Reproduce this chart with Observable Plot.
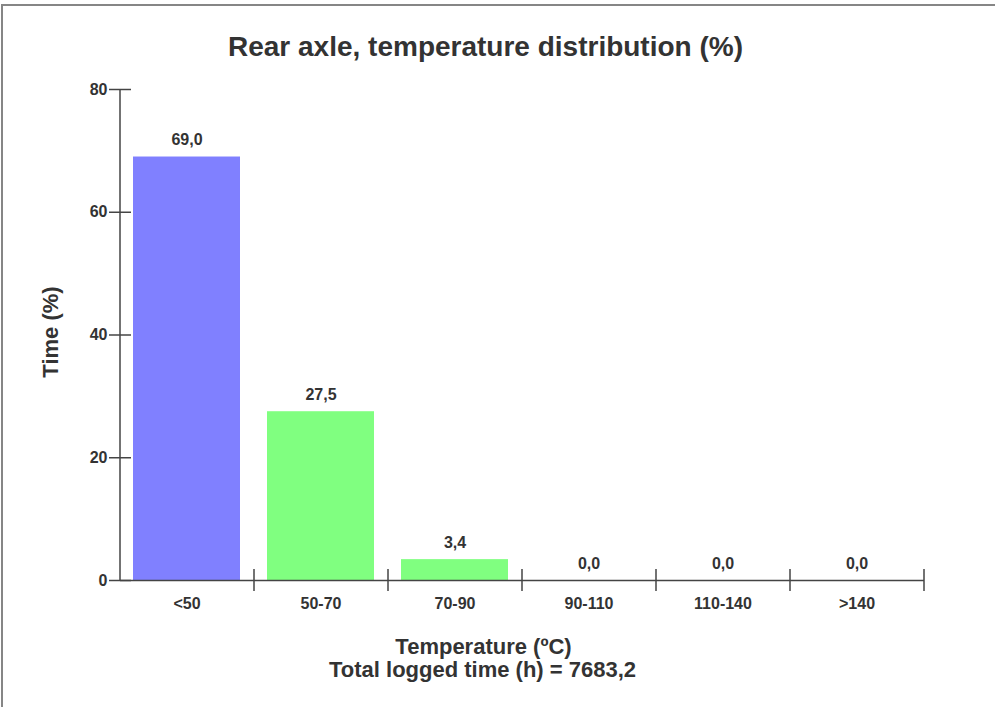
<!DOCTYPE html>
<html>
<head>
<meta charset="utf-8">
<script src="https://cdn.jsdelivr.net/npm/d3@7"></script>
<script src="https://cdn.jsdelivr.net/npm/@observablehq/plot@0.6"></script>
<style>
  html, body { margin: 0; padding: 0; background: #fff; }
  #wrap { position: relative; width: 995px; height: 707px; overflow: hidden; }
  #border { position: absolute; top: 4px; left: 1px; right: 0; bottom: 0;
            border-top: 2px solid #868686; border-left: 2px solid #868686; }
  #chart { position: absolute; top: 0; left: 0; }
</style>
</head>
<body>
<div id="wrap"><div id="border"></div><div id="chart"></div></div>
<script>
// ---- data ----
const categories = ["<50", "50-70", "70-90", "90-110", "110-140", ">140"];
const values = [69.0, 27.5, 3.4, 0.0, 0.0, 0.0];
const barColors = ["#8080ff", "#80ff80", "#80ff80", "#80ff80", "#80ff80", "#80ff80"];
const yTicks = [0, 20, 40, 60, 80];
const titleText = "Rear axle, temperature distribution (%)";
const yLabel = "Time (%)";
const xLabel = "Temperature (ºC)";
const totalLabel = "Total logged time (h) = 7683,2";

// ---- layout ----
const W = 995, H = 707, ML = 120, MR = 71, MT = 89, MB = 127;
const frameW = W - ML - MR;
const step = frameW / categories.length;
const ink = "#333";
const axisColor = "#444";

const data = categories.map((c, i) => ({
  cat: c, value: values[i], color: barColors[i],
  label: values[i].toFixed(1).replace(".", ",")
}));

const bold = {fontWeight: "bold", fill: ink, lineAnchor: "middle"};

const chart = Plot.plot({
  width: W, height: H,
  marginLeft: ML, marginRight: MR, marginTop: MT, marginBottom: MB,
  x: {domain: categories, paddingInner: 0.2, paddingOuter: 0.1, axis: null},
  y: {domain: [0, 80], axis: null},
  color: {type: "identity"},
  style: {fontFamily: "'Liberation Sans', Arial, Helvetica, sans-serif", background: "transparent", overflow: "visible"},
  marks: [
    Plot.barY(data, {x: "cat", y: "value", fill: "color"}),
    // axis lines
    Plot.ruleY([0], {stroke: axisColor, strokeWidth: 1.5}),
    Plot.ruleX([categories[0]], {y1: 0, y2: 80, dx: -step / 2, stroke: axisColor, strokeWidth: 1.5}),
    // x ticks at band boundaries
    Plot.ruleX(categories, {x: d => d, y1: 0, y2: 0, dx: step / 2, insetTop: -11, insetBottom: -11, stroke: axisColor, strokeWidth: 1.5}),
    // y ticks crossing the axis
    Plot.ruleY(yTicks, {y: d => d, insetLeft: -11, insetRight: frameW - 11, stroke: axisColor, strokeWidth: 1.5}),
    // y tick labels
    Plot.text(yTicks, {y: d => d, text: d => String(d), frameAnchor: "left", dx: -13, textAnchor: "end", fontSize: 16, ...bold}),
    // category labels
    Plot.text(data, {x: "cat", y: () => 0, text: "cat", dy: 23, fontSize: 16, ...bold}),
    // value labels
    Plot.text(data, {x: "cat", y: "value", text: "label", dy: -17, fontSize: 16, ...bold}),
    // titles
    Plot.text([titleText], {frameAnchor: "top", dx: -37, dy: -42, fontSize: 28, ...bold}),
    Plot.text([yLabel], {frameAnchor: "left", textAnchor: "middle", dx: -70, dy: -3, rotate: -90, fontSize: 22, ...bold}),
    Plot.text([xLabel], {frameAnchor: "bottom", dx: -39, dy: 66, fontSize: 22, ...bold}),
    Plot.text([totalLabel], {frameAnchor: "bottom", dx: -40, dy: 89, fontSize: 22, ...bold})
  ]
});
document.getElementById("chart").appendChild(chart);
</script>
</body>
</html>
